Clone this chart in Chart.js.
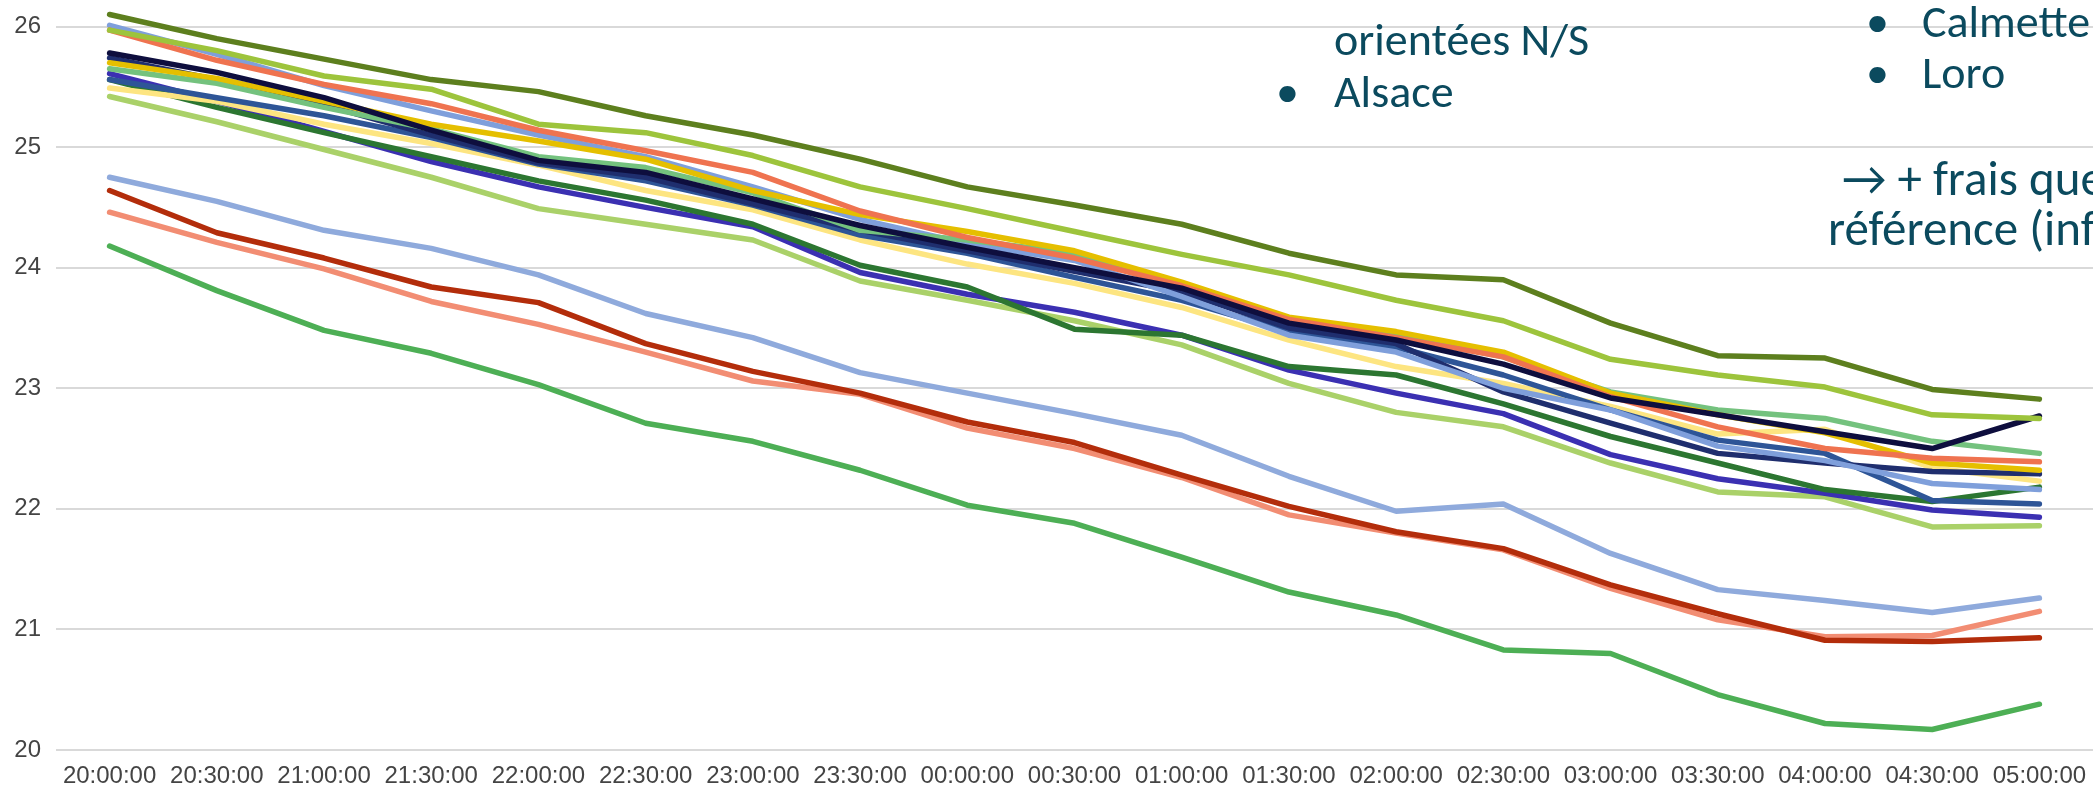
<!DOCTYPE html>
<html>
<head>
<meta charset="utf-8">
<title>Températures nocturnes</title>
<script src="https://cdn.jsdelivr.net/npm/chart.js@4.4.1/dist/chart.umd.min.js"></script>
<style>
  html, body { margin: 0; padding: 0; background: #fff; }
  #wrap { position: relative; width: 2093px; height: 793px; overflow: hidden; }
  .note {
    position: absolute;
    font-family: Carlito, "Liberation Sans Narrow", "Arial Narrow", "DejaVu Sans Condensed", sans-serif;
    font-size: 46px;
    line-height: 50px;
    color: #0b4a5e;
    white-space: nowrap;
  }
  .big { font-size: 49px; }
</style>
</head>
<body>
<div id="wrap">
  <canvas id="chart-temp"></canvas>
  <div class="note" style="left:1334px;top:14px">orientées N/S</div>
  <div class="note" style="left:1276px;top:66px">•</div>
  <div class="note" style="left:1334px;top:66px">Alsace</div>
  <div class="note" style="left:1866px;top:-4px">•</div>
  <div class="note" style="left:1922px;top:-4px">Calmette</div>
  <div class="note" style="left:1866px;top:47px">•</div>
  <div class="note" style="left:1922px;top:47px">Loro</div>
  <div class="note big" style="left:1842px;top:153px">&rarr; + frais que</div>
  <div class="note big" style="left:1828px;top:203px">référence (inf</div>
</div>

<script>
// time of day, every 30 min
const hours = ['20:00:00', '20:30:00', '21:00:00', '21:30:00', '22:00:00', '22:30:00', '23:00:00',
  '23:30:00', '00:00:00', '00:30:00', '01:00:00', '01:30:00', '02:00:00', '02:30:00',
  '03:00:00', '03:30:00', '04:00:00', '04:30:00', '05:00:00']

const yTicks = [20, 21, 22, 23, 24, 25, 26]

// temperatures (°C), one list per sensor
const olive       = [26.10, 25.90, 25.73, 25.56, 25.46, 25.26, 25.10, 24.90, 24.67, 24.52, 24.36, 24.12, 23.94, 23.90, 23.54, 23.27, 23.25, 22.99, 22.91]
const yellowGreen = [25.97, 25.80, 25.59, 25.48, 25.19, 25.12, 24.93, 24.67, 24.49, 24.30, 24.11, 23.94, 23.73, 23.56, 23.24, 23.11, 23.01, 22.78, 22.75]
const coral       = [25.97, 25.72, 25.52, 25.36, 25.14, 24.97, 24.79, 24.47, 24.25, 24.08, 23.85, 23.57, 23.42, 23.26, 22.93, 22.68, 22.50, 22.42, 22.39]
const cornflower  = [26.01, 25.77, 25.51, 25.30, 25.10, 24.92, 24.67, 24.40, 24.20, 24.06, 23.76, 23.44, 23.30, 23.00, 22.82, 22.52, 22.40, 22.21, 22.16]
const gold        = [25.70, 25.57, 25.38, 25.19, 25.05, 24.90, 24.64, 24.44, 24.30, 24.14, 23.88, 23.59, 23.47, 23.30, 22.96, 22.78, 22.63, 22.38, 22.32]
const midGreen    = [25.65, 25.53, 25.33, 25.15, 24.92, 24.83, 24.62, 24.31, 24.23, 24.12, 23.85, 23.58, 23.44, 23.26, 22.97, 22.82, 22.75, 22.56, 22.46]
const navy        = [25.78, 25.62, 25.41, 25.14, 24.89, 24.79, 24.57, 24.35, 24.17, 24.00, 23.83, 23.54, 23.40, 23.20, 22.92, 22.78, 22.64, 22.50, 22.77]
const darkNavy    = [25.74, 25.56, 25.35, 25.10, 24.87, 24.75, 24.53, 24.31, 24.14, 23.97, 23.80, 23.50, 23.37, 22.97, 22.71, 22.46, 22.38, 22.31, 22.29]
const steelBlue   = [25.56, 25.41, 25.26, 25.08, 24.86, 24.72, 24.52, 24.27, 24.12, 23.92, 23.73, 23.47, 23.34, 23.11, 22.82, 22.57, 22.46, 22.07, 22.04]
const paleYellow  = [25.49, 25.38, 25.19, 25.03, 24.85, 24.64, 24.48, 24.23, 24.03, 23.87, 23.67, 23.40, 23.18, 23.04, 22.85, 22.62, 22.66, 22.34, 22.23]
const darkGreen   = [25.56, 25.33, 25.12, 24.92, 24.72, 24.56, 24.36, 24.02, 23.84, 23.49, 23.44, 23.18, 23.11, 22.87, 22.60, 22.38, 22.16, 22.06, 22.18]
const indigo      = [25.61, 25.38, 25.13, 24.88, 24.67, 24.50, 24.34, 23.96, 23.78, 23.63, 23.44, 23.15, 22.96, 22.79, 22.45, 22.25, 22.13, 21.99, 21.93]
const lightGreen  = [25.42, 25.21, 24.98, 24.75, 24.49, 24.36, 24.23, 23.89, 23.73, 23.56, 23.36, 23.04, 22.80, 22.68, 22.38, 22.14, 22.10, 21.85, 21.86]
const skyBlue     = [24.75, 24.55, 24.31, 24.16, 23.94, 23.62, 23.42, 23.13, 22.96, 22.79, 22.61, 22.27, 21.98, 22.04, 21.63, 21.33, 21.24, 21.14, 21.26]
const darkRed     = [24.64, 24.29, 24.08, 23.84, 23.71, 23.37, 23.14, 22.96, 22.72, 22.55, 22.28, 22.02, 21.81, 21.67, 21.37, 21.13, 20.91, 20.90, 20.93]
const salmon      = [24.46, 24.21, 23.99, 23.72, 23.53, 23.30, 23.06, 22.95, 22.67, 22.50, 22.26, 21.95, 21.80, 21.66, 21.34, 21.08, 20.94, 20.95, 21.15]
const green       = [24.18, 23.81, 23.48, 23.29, 23.03, 22.71, 22.56, 22.32, 22.03, 21.88, 21.60, 21.31, 21.12, 20.83, 20.80, 20.46, 20.22, 20.17, 20.38]

const series = [
  ['olive', olive, '#5d7f1e'],
  ['yellowGreen', yellowGreen, '#9dc43c'],
  ['navy', navy, '#0e0e3e'],
  ['coral', coral, '#ef7350'],
  ['gold', gold, '#e5bf00'],
  ['midGreen', midGreen, '#74c27e'],
  ['cornflower', cornflower, '#7f9fdb'],
  ['darkNavy', darkNavy, '#1f2e6e'],
  ['steelBlue', steelBlue, '#2e5597'],
  ['paleYellow', paleYellow, '#fde581'],
  ['darkGreen', darkGreen, '#2c7631'],
  ['indigo', indigo, '#3b30b2'],
  ['lightGreen', lightGreen, '#aad169'],
  ['skyBlue', skyBlue, '#8faadc'],
  ['darkRed', darkRed, '#b32d0b'],
  ['salmon', salmon, '#f28d73'],
  ['green', green, '#4daf55']
]

const axisFont = { family: '"Liberation Sans", Arial, sans-serif', size: 24 }
const gridColor = '#d9d9d9'

function buildChart() {
  var datasets = []
  var i
  for (i = 0; i < series.length; i++) {
    datasets.push({
      label: series[i][0],
      data: series[i][1],
      borderColor: series[i][2],
      backgroundColor: series[i][2],
      borderWidth: 5.5,
      pointRadius: 0,
      tension: 0,
      fill: false,
      borderJoinStyle: 'round',
      borderCapStyle: 'round'
    })
  }

  var ctx = document.getElementById('chart-temp')
  new Chart(ctx, {
    type: 'line',
    data: { labels: hours, datasets: datasets },
    options: {
      responsive: true,
      maintainAspectRatio: false,
      animation: false,
      layout: { padding: 0 },
      plugins: { legend: { display: false }, tooltip: { enabled: false } },
      scales: {
        x: {
          offset: true,
          grid: { display: false, drawTicks: false },
          border: { display: false },
          ticks: { color: '#444', font: axisFont, padding: 12, maxRotation: 0, autoSkip: false },
          afterFit: function (scale) {
            scale.height = 43
            scale.paddingLeft = 0
            scale.paddingRight = 0
          }
        },
        y: {
          min: 20,
          max: 26.22,
          grid: { color: gridColor, lineWidth: 2, drawTicks: false },
          border: { display: false },
          ticks: { color: '#444', font: axisFont, padding: 15 },
          afterBuildTicks: function (scale) {
            scale.ticks = yTicks.map(function (v) { return { value: v } })
          },
          afterFit: function (scale) {
            scale.width = 56
            scale.paddingTop = 0
            scale.paddingBottom = 0
          }
        }
      }
    }
  })
}

buildChart()
</script>
</body>
</html>
